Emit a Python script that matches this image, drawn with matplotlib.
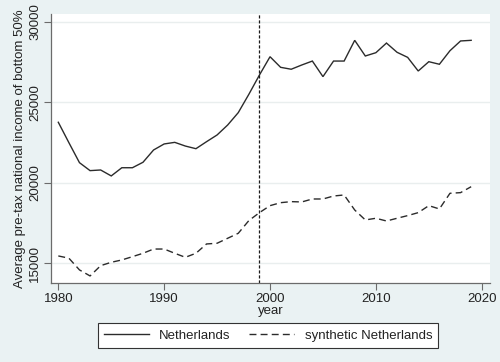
import matplotlib
matplotlib.use("Agg")
import matplotlib.pyplot as plt
from matplotlib.lines import Line2D

years = list(range(1980, 2020))

netherlands = [
    23760, 22490, 21245, 20750, 20790, 20420, 20930, 20930, 21270, 22035,
    22410, 22510, 22280, 22115, 22550, 22970, 23590, 24360, 25500, 26700,
    27840, 27180, 27060, 27325, 27570, 26600, 27570, 27570, 28860, 27885,
    28090, 28690, 28115, 27800, 26950, 27530, 27370, 28215, 28820, 28860,
]

synthetic = [
    15440, 15300, 14570, 14195, 14835, 15045, 15190, 15395, 15605, 15870,
    15870, 15605, 15355, 15605, 16185, 16230, 16540, 16850, 17640, 18135,
    18570, 18755, 18820, 18800, 18985, 18985, 19170, 19235, 18300, 17680,
    17785, 17615, 17785, 17950, 18135, 18570, 18365, 19340, 19380, 19750,
]

treatment_year = 1999
x_ticks = [1980, 1990, 2000, 2010, 2020]
y_ticks = [15000, 20000, 25000, 30000]

plt.rcParams["font.family"] = ["Liberation Sans", "DejaVu Sans"]

bg = "#eaf2f3"
fig = plt.figure(figsize=(5.0, 3.62), dpi=100, facecolor=bg)
ax = fig.add_axes([0.102, 0.2182, 0.878, 0.7431])
ax.set_facecolor("white")

ax.set_xlim(1979.31, 2020.78)
ax.set_ylim(13755, 30498)

for yv in y_ticks:
    ax.axhline(yv, color="#e9eeee", lw=1.0, zorder=0)

ax.plot(years, netherlands, color="#2b2b2b", lw=1.0, solid_joinstyle="miter")
ax.plot(years, synthetic, color="#2b2b2b", lw=1.0, linestyle=(0, (5, 3)))
ax.axvline(treatment_year, color="#1a1a1a", lw=0.9, linestyle=(0, (2.5, 1.5)))

for side in ("top", "right"):
    ax.spines[side].set_visible(False)
for side in ("left", "bottom"):
    ax.spines[side].set_color("#6b6b6b")
    ax.spines[side].set_linewidth(0.9)

ax.set_xticks(x_ticks)
ax.set_yticks(y_ticks)
ax.set_yticklabels([str(v) for v in y_ticks], rotation=90, va="center")
ax.tick_params(axis="both", direction="out", length=5, width=0.8,
               color="#6b6b6b", labelsize=9.5, labelcolor="#222222", pad=2)

ax.set_xlabel("year", fontsize=9.5, color="#222222", labelpad=0)
ax.set_ylabel("Average pre-tax national income of bottom 50%", fontsize=9.5,
              color="#222222", labelpad=2)

handles = [
    Line2D([], [], color="#2b2b2b", lw=1.0),
    Line2D([], [], color="#2b2b2b", lw=1.0, linestyle=(0, (5, 3))),
]
leg = fig.legend(handles, ["Netherlands", "synthetic Netherlands"],
                 loc="center", bbox_to_anchor=(0.536, 0.0732), ncol=2,
                 fontsize=9.5, frameon=True, fancybox=False, handlelength=3.4,
                 columnspacing=1.4, handletextpad=0.8, borderpad=0.45,
                 borderaxespad=0.0,
                 edgecolor="#333333", facecolor="white", framealpha=1.0)
leg.get_frame().set_linewidth(0.8)
for t in leg.get_texts():
    t.set_color("#222222")

fig.savefig("out.png", dpi=100, facecolor=bg)
